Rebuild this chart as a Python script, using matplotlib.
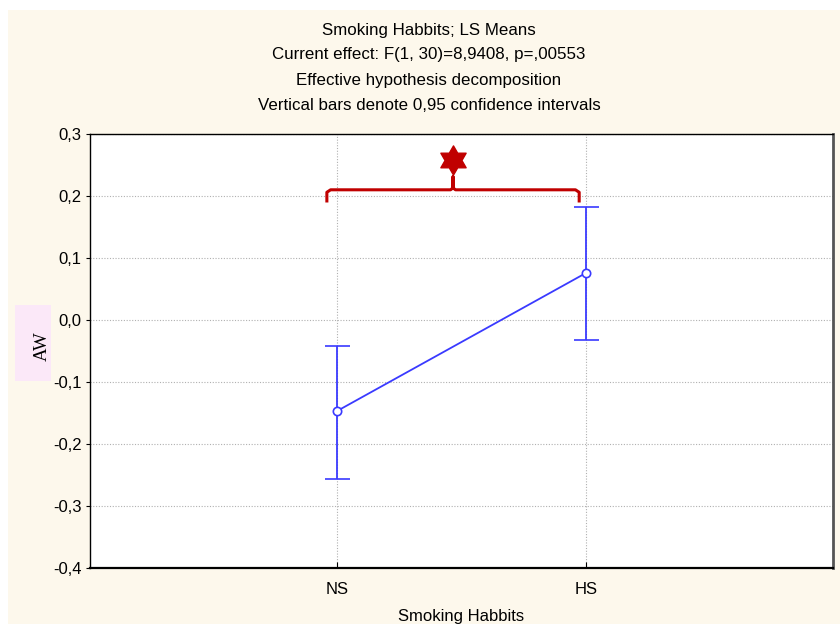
import numpy as np
import matplotlib.pyplot as plt
from matplotlib.patches import Rectangle
from matplotlib.path import Path

plt.rcParams['font.family'] = ['Liberation Sans', 'DejaVu Sans']

# LS means with 0.95 confidence intervals
groups = ['NS', 'HS']
means = [-0.147, 0.076]
ci_low = [-0.256, -0.032]
ci_high = [-0.042, 0.182]

title_lines = ['Smoking Habbits; LS Means',
               'Current effect: F(1, 30)=8,9408, p=,00553',
               'Effective hypothesis decomposition',
               'Vertical bars denote 0,95 confidence intervals']

yticks = [-0.4, -0.3, -0.2, -0.1, 0.0, 0.1, 0.2, 0.3]

# significance bracket
br_x = [-0.04, 0.972]
br_y = 0.21
br_foot = 0.192
br_peak = 0.231
star_y = 0.258

fig = plt.figure(figsize=(8.4, 6.24), dpi=100)
fig.patch.set_facecolor('white')
fig.patches.append(Rectangle((8/840, 0), 1, 1 - 10/624, transform=fig.transFigure,
                             facecolor='#fdf8ec', edgecolor='none', zorder=-10))
# pink box behind the y label
fig.patches.append(Rectangle((15/840, 1 - 381/624), 36/840, 76/624, transform=fig.transFigure,
                             facecolor='#fbe8f8', edgecolor='none', zorder=-9))

ax = fig.add_axes([90/840, 1 - 568/624, (833-90)/840, (568-134)/624])
ax.set_facecolor('white')

x = np.arange(len(groups))
m = np.array(means)
err = [m - np.array(ci_low), np.array(ci_high) - m]
ax.errorbar(x, m, yerr=err, color='#3a3aff', lw=1.3, capsize=9, capthick=1.3,
            marker='o', ms=6, mfc='white', mec='#3a3aff', mew=1.2, zorder=3)

ax.set_xlim(-0.99, 1.99)
ax.set_ylim(-0.4, 0.3)
ax.set_xticks(x)
ax.set_xticklabels(groups)
ax.set_yticks(yticks)
ax.set_yticklabels([('%.1f' % v).replace('.', ',') for v in yticks])
ax.grid(True, color='#b0b0b0', ls=(0, (1, 1.5)), lw=0.8)
ax.tick_params(axis='y', direction='out', length=3, labelsize=12, pad=3)
ax.tick_params(axis='x', direction='in', length=4, labelsize=12, pad=10)
for s in ax.spines.values():
    s.set_linewidth(1.0)
ax.spines['right'].set_color('#555555')
ax.spines['right'].set_linewidth(2)
ax.spines['bottom'].set_linewidth(1.6)

ax.set_xlabel('Smoking Habbits', fontsize=12, labelpad=9)
ax.set_ylabel('AW', fontsize=13.5, family='Liberation Serif', va='center')
ax.yaxis.set_label_coords((42 - 90) / 743, (568 - 346) / 434)

for i, line in enumerate(title_lines):
    fig.text(429 / 840, 1 - (30 + 25 * i) / 624, line, ha='center', va='center', fontsize=12.2)

# bracket
red = '#c00000'
mid = (br_x[0] + br_x[1]) / 2
bx = [br_x[0], br_x[0], br_x[0] + 0.015, mid - 0.01, mid, mid, mid, mid + 0.01,
      br_x[1] - 0.015, br_x[1], br_x[1]]
by = [br_foot, br_y - 0.004, br_y, br_y, br_y + 0.003, br_peak, br_y + 0.003, br_y,
      br_y, br_y - 0.004, br_foot]
ax.plot(bx, by, color=red, lw=2.2, solid_joinstyle='round', clip_on=False, zorder=4)

ang = np.pi / 2 + np.arange(12) * np.pi / 6
rad = np.where(np.arange(12) % 2 == 0, 1.0, 1 / np.sqrt(3))
verts = np.column_stack([rad * np.cos(ang), rad * np.sin(ang)])
verts = np.vstack([verts, verts[:1]])
star = Path(verts, closed=True)
ax.plot([mid], [star_y], marker=star, ms=21, color=red, mec=red, zorder=5, clip_on=False)

fig.savefig('out.png', dpi=100, facecolor=fig.get_facecolor())
